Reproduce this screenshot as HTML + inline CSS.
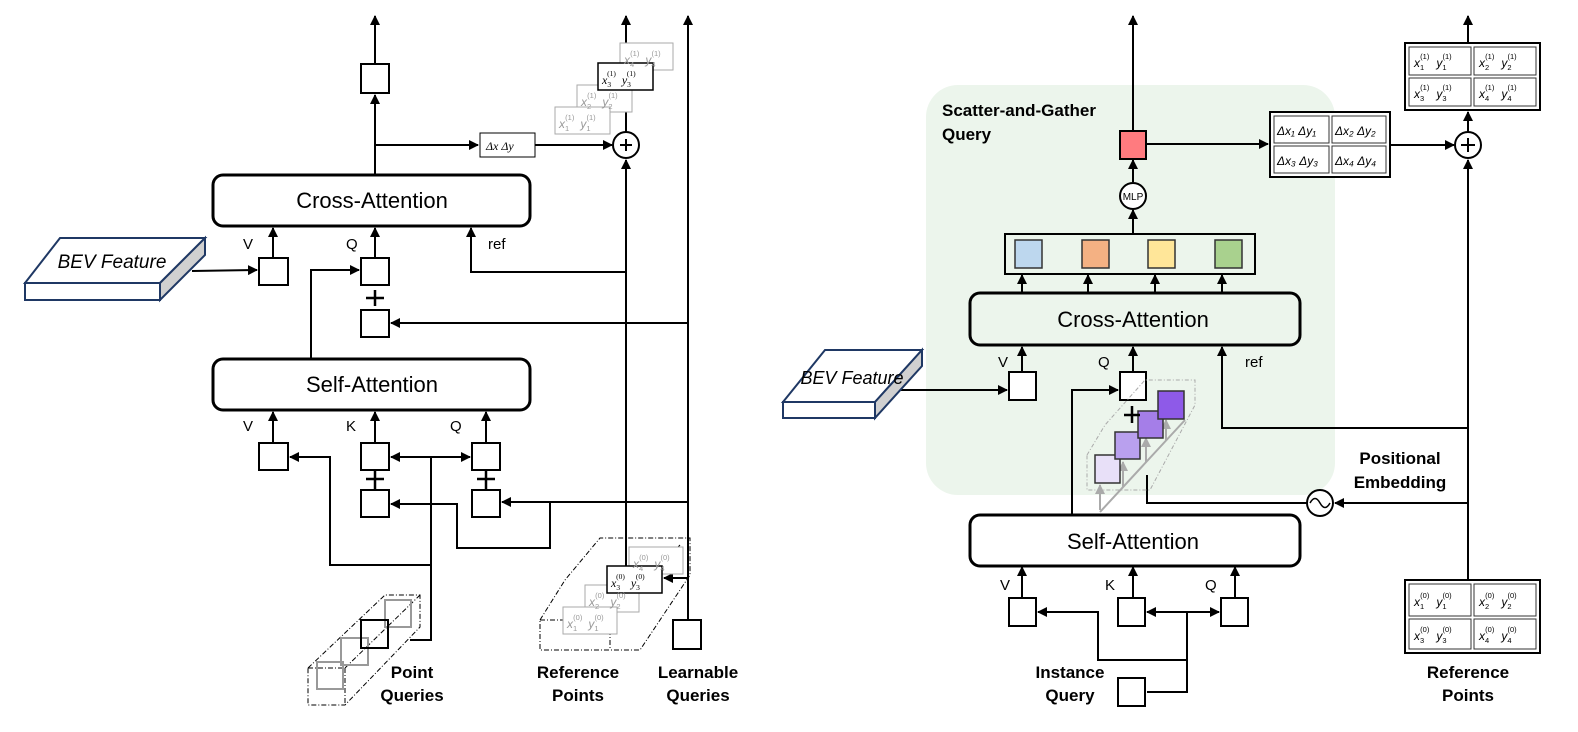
<!DOCTYPE html>
<html><head><meta charset="utf-8"><style>
html,body{margin:0;padding:0;background:#fff;}
svg{display:block;}
text{font-family:"Liberation Sans",sans-serif;}
.b{font-weight:bold;font-size:17px;}
.m{font-family:"Liberation Serif",serif;font-style:italic;font-size:12px;}
.s{font-size:7.5px;font-style:normal;}
</style></head><body>
<svg width="1578" height="732" viewBox="0 0 1578 732" xmlns="http://www.w3.org/2000/svg">
<defs>
<marker id="a" markerWidth="10" markerHeight="10" refX="9" refY="5" orient="auto" markerUnits="userSpaceOnUse"><path d="M0,0 L10,5 L0,10 z" fill="#000"/></marker>
<marker id="g" markerWidth="10" markerHeight="10" refX="9" refY="5" orient="auto" markerUnits="userSpaceOnUse"><path d="M0,0 L10,5 L0,10 z" fill="#aaa"/></marker>
</defs>
<g fill="none" stroke="#000" stroke-width="2">
<rect x="213" y="175" width="317" height="51" rx="10" stroke-width="3"/>
<rect x="213" y="359" width="317" height="51" rx="10" stroke-width="3"/>
<line x1="375" y1="175" x2="375" y2="95" marker-end="url(#a)"/>
<rect x="361" y="64" width="28" height="29"/>
<line x1="375" y1="64" x2="375" y2="16" marker-end="url(#a)"/>
<line x1="375" y1="145" x2="478" y2="145" marker-end="url(#a)"/>
<rect x="480" y="133" width="55" height="24" stroke-width="1"/>
<line x1="535" y1="145" x2="612" y2="145" marker-end="url(#a)"/>
<circle cx="626" cy="145" r="13"/>
<line x1="620" y1="145" x2="632" y2="145"/><line x1="626" y1="139" x2="626" y2="151"/>
<line x1="626" y1="132" x2="626" y2="16" marker-end="url(#a)"/>
<line x1="626" y1="575" x2="626" y2="160" marker-end="url(#a)"/>
<line x1="688" y1="620" x2="688" y2="16" marker-end="url(#a)"/>
<rect x="673" y="620" width="28" height="29"/>
<line x1="688" y1="578" x2="664" y2="578" marker-end="url(#a)"/>
<polyline points="626,272 471,272 471,228" marker-end="url(#a)"/>
<line x1="273" y1="258" x2="273" y2="228" marker-end="url(#a)"/>
<rect x="259" y="258" width="29" height="27"/>
<line x1="375" y1="258" x2="375" y2="228" marker-end="url(#a)"/>
<rect x="361" y="258" width="28" height="27"/>
<line x1="192" y1="271" x2="257" y2="270" marker-end="url(#a)"/>
<polyline points="311,359 311,270 359,270" marker-end="url(#a)"/>
<rect x="361" y="310" width="28" height="27"/>
<line x1="688" y1="323" x2="391" y2="323" marker-end="url(#a)"/>
<line x1="273" y1="443" x2="273" y2="412" marker-end="url(#a)"/>
<line x1="375" y1="443" x2="375" y2="412" marker-end="url(#a)"/>
<line x1="486" y1="443" x2="486" y2="412" marker-end="url(#a)"/>
<rect x="259" y="443" width="29" height="27"/>
<rect x="361" y="443" width="28" height="27"/>
<rect x="472" y="443" width="28" height="27"/>
<rect x="361" y="490" width="28" height="27"/>
<rect x="472" y="490" width="28" height="27"/>
<line x1="431" y1="457" x2="391" y2="457" marker-end="url(#a)"/>
<line x1="431" y1="457" x2="470" y2="457" marker-end="url(#a)"/>
<polyline points="431,565 330,565 330,457 290,457" marker-end="url(#a)"/>
<polyline points="431,457 431,640 410,640"/>
<line x1="688" y1="502" x2="502" y2="502" marker-end="url(#a)"/>
<polyline points="550,502 550,548 457,548 457,504 391,504" marker-end="url(#a)"/>
</g>
<g stroke="#000" stroke-width="2.5">
<line x1="366" y1="298" x2="384" y2="298"/><line x1="375" y1="290" x2="375" y2="306"/>
<line x1="366" y1="479" x2="384" y2="479"/><line x1="375" y1="471" x2="375" y2="489"/>
<line x1="477" y1="479" x2="495" y2="479"/><line x1="486" y1="471" x2="486" y2="489"/>
</g>
<!-- BEV left -->
<polygon points="60,238 205,238 160,283 25,283" fill="#fff" stroke="#1f3864" stroke-width="2"/>
<polygon points="25,283 160,283 160,300 25,300" fill="#fff" stroke="#1f3864" stroke-width="2"/>
<polygon points="160,283 205,238 205,255 160,300" fill="#d0d0d0" stroke="#1f3864" stroke-width="2"/>
<text x="112" y="268" font-size="19" font-style="italic" text-anchor="middle">BEV Feature</text>
<text x="372" y="208" font-size="22" text-anchor="middle">Cross-Attention</text>
<text x="372" y="392" font-size="22" text-anchor="middle">Self-Attention</text>
<g font-size="15"><text x="243" y="249">V</text><text x="346" y="249">Q</text><text x="488" y="249">ref</text>
<text x="243" y="431">V</text><text x="346" y="431">K</text><text x="450" y="431">Q</text></g>
<text x="486" y="150" class="m">Δx   Δy</text>
<!-- stacked x(1) -->
<g fill="#fff" stroke="#aaa" stroke-width="1">
<rect x="620" y="43" width="53" height="27"/><rect x="577" y="85" width="55" height="27"/><rect x="555" y="107" width="55" height="27"/>
</g>
<rect x="598" y="63" width="55" height="27" fill="#fff" stroke="#000" stroke-width="1.5"/>
<g class="m" fill="#999">
<text x="624" y="64">x<tspan class="s" dy="3">4</tspan><tspan class="s" dx="-4" dy="-11">(1)</tspan><tspan dx="6" dy="8">y</tspan><tspan class="s" dy="3">4</tspan><tspan class="s" dx="-4" dy="-11">(1)</tspan></text>
<text x="581" y="106">x<tspan class="s" dy="3">2</tspan><tspan class="s" dx="-4" dy="-11">(1)</tspan><tspan dx="6" dy="8">y</tspan><tspan class="s" dy="3">2</tspan><tspan class="s" dx="-4" dy="-11">(1)</tspan></text>
<text x="559" y="128">x<tspan class="s" dy="3">1</tspan><tspan class="s" dx="-4" dy="-11">(1)</tspan><tspan dx="6" dy="8">y</tspan><tspan class="s" dy="3">1</tspan><tspan class="s" dx="-4" dy="-11">(1)</tspan></text>
</g>
<text x="602" y="84" class="m" fill="#000">x<tspan class="s" dy="3">3</tspan><tspan class="s" dx="-4" dy="-11">(1)</tspan><tspan dx="6" dy="8">y</tspan><tspan class="s" dy="3">3</tspan><tspan class="s" dx="-4" dy="-11">(1)</tspan></text>
<!-- ref points stack bottom left -->
<g fill="none" stroke="#000" stroke-width="1" stroke-dasharray="5,2,1,2">
<polygon points="540,620 565,580 600,538 690,538 690,575 640,650 610,650 540,650"/>
<line x1="610" y1="620" x2="680" y2="545"/>
<line x1="540" y1="620" x2="610" y2="620"/><line x1="610" y1="620" x2="610" y2="650"/>
</g>
<g fill="#fff" stroke="#aaa" stroke-width="1">
<rect x="629" y="547" width="54" height="27"/><rect x="585" y="585" width="54" height="27"/><rect x="563" y="607" width="54" height="27"/>
</g>
<rect x="607" y="566" width="55" height="27" fill="#fff" stroke="#000" stroke-width="1.5"/>
<g class="m" fill="#999">
<text x="633" y="568">x<tspan class="s" dy="3">4</tspan><tspan class="s" dx="-4" dy="-11">(0)</tspan><tspan dx="6" dy="8">y</tspan><tspan class="s" dy="3">4</tspan><tspan class="s" dx="-4" dy="-11">(0)</tspan></text>
<text x="589" y="606">x<tspan class="s" dy="3">2</tspan><tspan class="s" dx="-4" dy="-11">(0)</tspan><tspan dx="6" dy="8">y</tspan><tspan class="s" dy="3">2</tspan><tspan class="s" dx="-4" dy="-11">(0)</tspan></text>
<text x="567" y="628">x<tspan class="s" dy="3">1</tspan><tspan class="s" dx="-4" dy="-11">(0)</tspan><tspan dx="6" dy="8">y</tspan><tspan class="s" dy="3">1</tspan><tspan class="s" dx="-4" dy="-11">(0)</tspan></text>
</g>
<text x="611" y="587" class="m" fill="#000">x<tspan class="s" dy="3">3</tspan><tspan class="s" dx="-4" dy="-11">(0)</tspan><tspan dx="6" dy="8">y</tspan><tspan class="s" dy="3">3</tspan><tspan class="s" dx="-4" dy="-11">(0)</tspan></text>
<!-- point queries -->
<g fill="none" stroke="#000" stroke-width="1" stroke-dasharray="5,2,1,2">
<polygon points="308,668 385,595 420,595 420,627 345,705 308,705"/>
<line x1="345" y1="668" x2="420" y2="595"/><line x1="308" y1="668" x2="345" y2="668"/><line x1="345" y1="668" x2="345" y2="705"/>
</g>
<g fill="none" stroke="#999" stroke-width="2">
<rect x="385" y="600" width="26" height="27"/><rect x="341" y="638" width="27" height="27"/><rect x="317" y="662" width="26" height="27"/>
</g>
<rect x="361" y="620" width="27" height="28" fill="none" stroke="#000" stroke-width="2"/>
<g class="b" text-anchor="middle"><text x="412" y="678">Point</text><text x="412" y="701">Queries</text>
<text x="578" y="678">Reference</text><text x="578" y="701">Points</text>
<text x="698" y="678">Learnable</text><text x="698" y="701">Queries</text></g>

<!-- RIGHT -->
<rect x="926" y="85" width="409" height="410" rx="32" fill="#ecf5ec"/>
<text x="942" y="116" class="b">Scatter-and-Gather</text><text x="942" y="140" class="b">Query</text>
<g fill="none" stroke="#000" stroke-width="2">
<rect x="970" y="293" width="330" height="52" rx="10" stroke-width="3"/>
<rect x="970" y="515" width="330" height="51" rx="10" stroke-width="3"/>
<line x1="1133" y1="130" x2="1133" y2="16" marker-end="url(#a)"/>
<line x1="1133" y1="182" x2="1133" y2="160" marker-end="url(#a)"/>
<line x1="1133" y1="233" x2="1133" y2="210" marker-end="url(#a)"/>
<circle cx="1133" cy="196" r="13" fill="#fff"/>
<rect x="1005" y="234" width="250" height="40"/>
<line x1="1022" y1="293" x2="1022" y2="275" marker-end="url(#a)"/>
<line x1="1088" y1="293" x2="1088" y2="275" marker-end="url(#a)"/>
<line x1="1155" y1="293" x2="1155" y2="275" marker-end="url(#a)"/>
<line x1="1222" y1="293" x2="1222" y2="275" marker-end="url(#a)"/>
<line x1="1147" y1="144" x2="1268" y2="144" marker-end="url(#a)"/>
<line x1="1390" y1="145" x2="1454" y2="145" marker-end="url(#a)"/>
<circle cx="1468" cy="145" r="13"/>
<line x1="1461" y1="145" x2="1475" y2="145"/><line x1="1468" y1="138" x2="1468" y2="152"/>
<line x1="1468" y1="132" x2="1468" y2="112" marker-end="url(#a)"/>
<line x1="1468" y1="43" x2="1468" y2="16" marker-end="url(#a)"/>
<line x1="1468" y1="580" x2="1468" y2="160" marker-end="url(#a)"/>
<line x1="1022" y1="372" x2="1022" y2="347" marker-end="url(#a)"/>
<line x1="1133" y1="372" x2="1133" y2="347" marker-end="url(#a)"/>
<polyline points="1468,428 1222,428 1222,347" marker-end="url(#a)"/>
<rect x="1009" y="372" width="27" height="28" fill="#fff"/>
<rect x="1120" y="372" width="26" height="28" fill="#fff"/>
<line x1="895" y1="390" x2="1007" y2="390" marker-end="url(#a)"/>
<polyline points="1072,515 1072,390 1118,390" marker-end="url(#a)"/>
<line x1="1468" y1="503" x2="1335" y2="503" marker-end="url(#a)"/>
<circle cx="1320" cy="503" r="13" fill="#fff"/>
<polyline points="1307,503 1147,503 1147,475"/>
<line x1="1022" y1="598" x2="1022" y2="567" marker-end="url(#a)"/>
<line x1="1133" y1="598" x2="1133" y2="567" marker-end="url(#a)"/>
<line x1="1235" y1="598" x2="1235" y2="567" marker-end="url(#a)"/>
<rect x="1009" y="598" width="27" height="28"/>
<rect x="1118" y="598" width="27" height="28"/>
<rect x="1221" y="598" width="27" height="28"/>
<line x1="1187" y1="612" x2="1147" y2="612" marker-end="url(#a)"/>
<line x1="1187" y1="612" x2="1219" y2="612" marker-end="url(#a)"/>
<polyline points="1187,660 1098,660 1098,612 1038,612" marker-end="url(#a)"/>
<polyline points="1187,612 1187,692 1147,692"/>
<rect x="1118" y="678" width="27" height="28"/>
</g>
<path d="M1310,503 q5,-9 10,0 t10,0" fill="none" stroke="#000" stroke-width="1.5"/>
<text x="1133" y="200" font-size="10" text-anchor="middle">MLP</text>
<rect x="1120" y="131" width="26" height="28" fill="#ff7b7f" stroke="#000" stroke-width="2"/>
<rect x="1015" y="240" width="27" height="28" fill="#bdd7ee" stroke="#333" stroke-width="1.5"/>
<rect x="1082" y="240" width="27" height="28" fill="#f4b183" stroke="#333" stroke-width="1.5"/>
<rect x="1148" y="240" width="27" height="28" fill="#ffe699" stroke="#333" stroke-width="1.5"/>
<rect x="1215" y="240" width="27" height="28" fill="#a9d18e" stroke="#333" stroke-width="1.5"/>
<text x="1133" y="327" font-size="22" text-anchor="middle">Cross-Attention</text>
<text x="1133" y="549" font-size="22" text-anchor="middle">Self-Attention</text>
<g font-size="15"><text x="998" y="367">V</text><text x="1098" y="367">Q</text><text x="1245" y="367">ref</text>
<text x="1000" y="590">V</text><text x="1105" y="590">K</text><text x="1205" y="590">Q</text></g>
<!-- BEV right -->
<polygon points="825,350 922,350 875,402 783,402" fill="#fff" stroke="#1f3864" stroke-width="2"/>
<polygon points="783,402 875,402 875,418 783,418" fill="#fff" stroke="#1f3864" stroke-width="2"/>
<polygon points="875,402 922,350 922,366 875,418" fill="#d0d0d0" stroke="#1f3864" stroke-width="2"/>
<text x="852" y="384" font-size="18" font-style="italic" text-anchor="middle">BEV Feature</text>
<!-- purple stack -->
<g fill="none" stroke="#aaa" stroke-width="1" stroke-dasharray="4,2,1,2">
<polygon points="1087,455 1105,425 1145,380 1195,380 1195,405 1150,490 1087,490"/>
</g>
<g stroke="#aaa" stroke-width="2" fill="none">
<polyline points="1100,512 1185,420"/>
<line x1="1100" y1="510" x2="1100" y2="485" marker-end="url(#g)"/>
<line x1="1123" y1="487" x2="1123" y2="462" marker-end="url(#g)"/>
<line x1="1146" y1="462" x2="1146" y2="438" marker-end="url(#g)"/>
<line x1="1166" y1="440" x2="1166" y2="420" marker-end="url(#g)"/>
</g>
<rect x="1095" y="455" width="25" height="28" fill="#e8e0f8" stroke="#333" stroke-width="1.5"/>
<rect x="1115" y="432" width="25" height="27" fill="#b9a0ee" stroke="#333" stroke-width="1.5"/>
<rect x="1138" y="411" width="25" height="27" fill="#a57ee8" stroke="#333" stroke-width="1.5"/>
<rect x="1158" y="391" width="26" height="28" fill="#8e5ae8" stroke="#333" stroke-width="1.5"/>
<g stroke="#000" stroke-width="2.5"><line x1="1124" y1="415" x2="1140" y2="415"/><line x1="1132" y1="406" x2="1132" y2="423"/></g>
<text x="1400" y="464" class="b" text-anchor="middle">Positional</text>
<text x="1400" y="488" class="b" text-anchor="middle">Embedding</text>
<g class="b" text-anchor="middle"><text x="1070" y="678">Instance</text><text x="1070" y="701">Query</text>
<text x="1468" y="678">Reference</text><text x="1468" y="701">Points</text></g>
<!-- grids -->
<g fill="#fff" stroke="#000">
<rect x="1405" y="43" width="135" height="67" stroke-width="2"/>
<rect x="1270" y="112" width="120" height="65" stroke-width="2"/>
<rect x="1405" y="580" width="135" height="73" stroke-width="2"/>
</g>
<g fill="none" stroke="#333" stroke-width="1">
<rect x="1409" y="47" width="62" height="28"/><rect x="1474" y="47" width="62" height="28"/>
<rect x="1409" y="78" width="62" height="28"/><rect x="1474" y="78" width="62" height="28"/>
<rect x="1274" y="116" width="55" height="27"/><rect x="1332" y="116" width="54" height="27"/>
<rect x="1274" y="146" width="55" height="27"/><rect x="1332" y="146" width="54" height="27"/>
<rect x="1409" y="584" width="62" height="32"/><rect x="1474" y="584" width="62" height="32"/>
<rect x="1409" y="619" width="62" height="30"/><rect x="1474" y="619" width="62" height="30"/>
</g>
<g class="m" font-size="13">
<text x="1414" y="67">x<tspan class="s" dy="3">1</tspan><tspan class="s" dx="-4" dy="-11">(1)</tspan><tspan dx="7" dy="8">y</tspan><tspan class="s" dy="3">1</tspan><tspan class="s" dx="-4" dy="-11">(1)</tspan></text>
<text x="1479" y="67">x<tspan class="s" dy="3">2</tspan><tspan class="s" dx="-4" dy="-11">(1)</tspan><tspan dx="7" dy="8">y</tspan><tspan class="s" dy="3">2</tspan><tspan class="s" dx="-4" dy="-11">(1)</tspan></text>
<text x="1414" y="98">x<tspan class="s" dy="3">3</tspan><tspan class="s" dx="-4" dy="-11">(1)</tspan><tspan dx="7" dy="8">y</tspan><tspan class="s" dy="3">3</tspan><tspan class="s" dx="-4" dy="-11">(1)</tspan></text>
<text x="1479" y="98">x<tspan class="s" dy="3">4</tspan><tspan class="s" dx="-4" dy="-11">(1)</tspan><tspan dx="7" dy="8">y</tspan><tspan class="s" dy="3">4</tspan><tspan class="s" dx="-4" dy="-11">(1)</tspan></text>
<text x="1414" y="606">x<tspan class="s" dy="3">1</tspan><tspan class="s" dx="-4" dy="-11">(0)</tspan><tspan dx="7" dy="8">y</tspan><tspan class="s" dy="3">1</tspan><tspan class="s" dx="-4" dy="-11">(0)</tspan></text>
<text x="1479" y="606">x<tspan class="s" dy="3">2</tspan><tspan class="s" dx="-4" dy="-11">(0)</tspan><tspan dx="7" dy="8">y</tspan><tspan class="s" dy="3">2</tspan><tspan class="s" dx="-4" dy="-11">(0)</tspan></text>
<text x="1414" y="640">x<tspan class="s" dy="3">3</tspan><tspan class="s" dx="-4" dy="-11">(0)</tspan><tspan dx="7" dy="8">y</tspan><tspan class="s" dy="3">3</tspan><tspan class="s" dx="-4" dy="-11">(0)</tspan></text>
<text x="1479" y="640">x<tspan class="s" dy="3">4</tspan><tspan class="s" dx="-4" dy="-11">(0)</tspan><tspan dx="7" dy="8">y</tspan><tspan class="s" dy="3">4</tspan><tspan class="s" dx="-4" dy="-11">(0)</tspan></text>
<text x="1277" y="135">Δx₁ Δy₁</text><text x="1335" y="135">Δx₂ Δy₂</text>
<text x="1277" y="165">Δx₃ Δy₃</text><text x="1335" y="165">Δx₄ Δy₄</text>
</g>
</svg>
</body></html>
